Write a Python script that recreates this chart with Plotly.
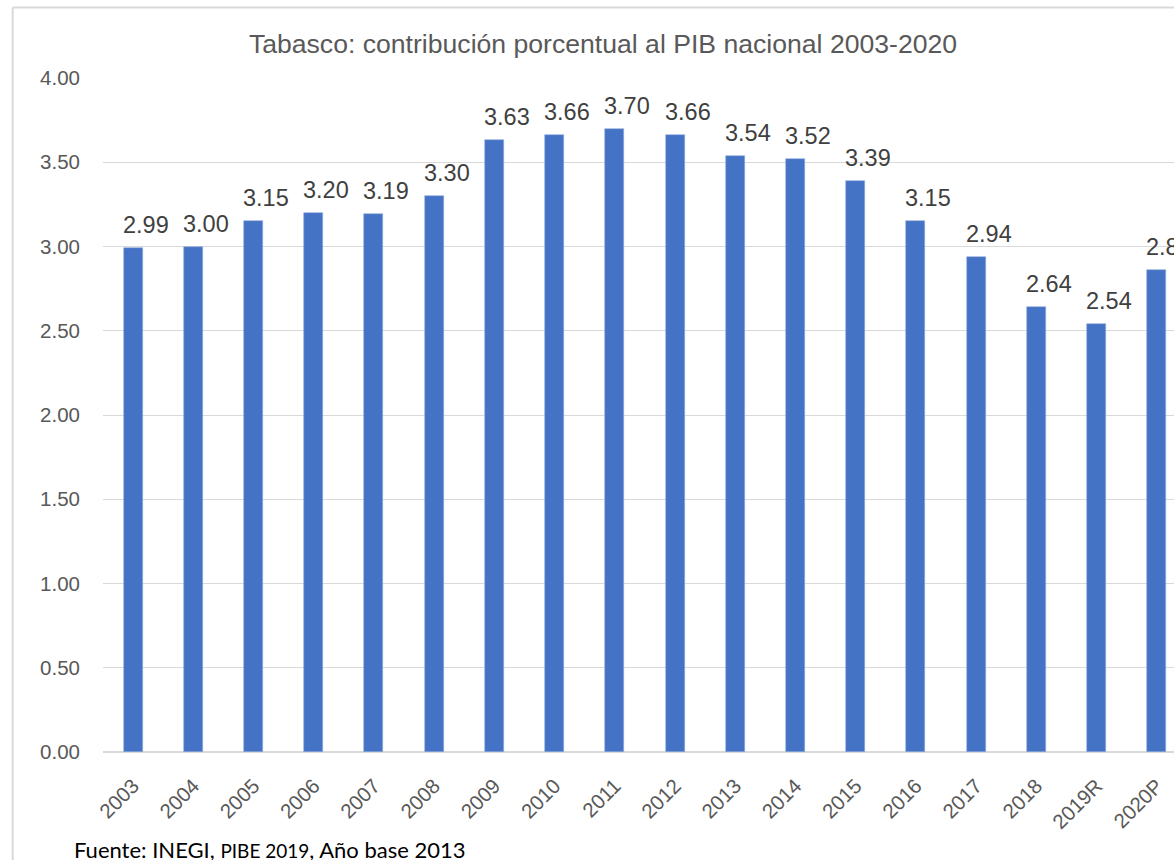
import plotly.graph_objects as go

years = ["2003", "2004", "2005", "2006", "2007", "2008", "2009", "2010", "2011",
         "2012", "2013", "2014", "2015", "2016", "2017", "2018", "2019R", "2020P"]
values = [2.99, 3.00, 3.15, 3.20, 3.19, 3.30, 3.63, 3.66, 3.70,
          3.66, 3.54, 3.52, 3.39, 3.15, 2.94, 2.64, 2.54, 2.86]
y_ticks = [0, 0.5, 1.0, 1.5, 2.0, 2.5, 3.0, 3.5, 4.0]
title_text = "Tabasco: contribución porcentual al PIB nacional 2003-2020"
source_text = "Fuente: INEGI, <span style='font-size:19px'>PIBE 2019</span>, Año base 2013"

W, H = 1174, 860
ML, MT, MB = 103.3, 77.7, 108.3
plot_w = W - ML
band = 60.2

fig = go.Figure()
fig.add_trace(go.Bar(
    x=list(range(len(years))), y=values,
    marker=dict(color="#4472C4", line=dict(color="#8FAADC", width=0.6)),
    width=19 / band,
    hoverinfo="skip",
))

for i, v in enumerate(values):
    fig.add_annotation(
        x=i, y=v, xref="x", yref="y", text=f"{v:.2f}", showarrow=False,
        xanchor="center", xshift=12.5,
        yanchor="bottom", yshift=8,
        font=dict(family="Liberation Sans, Arial", size=23.5, color="#404040"),
    )

x_max = -0.5 + plot_w / band

fig.update_layout(
    width=W, height=H,
    margin=dict(l=ML, r=0, t=MT, b=MB, pad=0, autoexpand=False),
    paper_bgcolor="white", plot_bgcolor="white",
    showlegend=False,
    bargap=0,
    title=dict(
        text=title_text, x=603 / W, xref="container", xanchor="center",
        y=1 - 44 / H, yref="container", yanchor="middle",
        font=dict(family="Liberation Sans, Arial", size=26.6, color="#595959"),
    ),
    xaxis=dict(
        range=[-0.5, x_max], tickmode="array",
        tickvals=list(range(len(years))), ticktext=years,
        tickangle=-45, showgrid=False, zeroline=False, showline=False,
        ticks="", ticklen=0, ticklabelstandoff=17,
        tickfont=dict(family="Liberation Sans, Arial", size=20.5, color="#595959"),
    ),
    yaxis=dict(
        range=[0, 4], tickmode="array", tickvals=y_ticks,
        ticktext=[f"{t:.2f}" for t in y_ticks],
        showgrid=True, gridcolor="#D9D9D9", gridwidth=1.3,
        zeroline=True, zerolinecolor="#D9D9D9", zerolinewidth=1.5,
        showline=False, ticks="", ticklabelstandoff=22,
        tickfont=dict(family="Liberation Sans, Arial", size=20.5, color="#595959"),
    ),
)

def px_to_paper_x(px):
    return (px - ML) / plot_w

def px_to_paper_y(py):
    return (H - MB - py) / (H - MT - MB)

# chart-area border (light gray, partly cropped)
fig.add_shape(type="line", xref="paper", yref="paper",
              x0=px_to_paper_x(13), x1=px_to_paper_x(W + 5),
              y0=px_to_paper_y(7.3), y1=px_to_paper_y(7.3),
              line=dict(color="#D9D9D9", width=2))
fig.add_shape(type="line", xref="paper", yref="paper",
              x0=px_to_paper_x(13), x1=px_to_paper_x(13),
              y0=px_to_paper_y(7.3), y1=px_to_paper_y(H + 5),
              line=dict(color="#D9D9D9", width=2))

fig.add_annotation(
    text=source_text, xref="paper", yref="paper",
    x=px_to_paper_x(72), y=px_to_paper_y(849), xanchor="left", yanchor="middle",
    showarrow=False,
    font=dict(family="Lato, Carlito, Calibri, sans-serif", size=22, color="#000000"),
)

fig.write_html(
    "out.html",
    config={"displayModeBar": False},
    post_script="document.body.style.margin='0';document.body.style.overflow='hidden';",
)
